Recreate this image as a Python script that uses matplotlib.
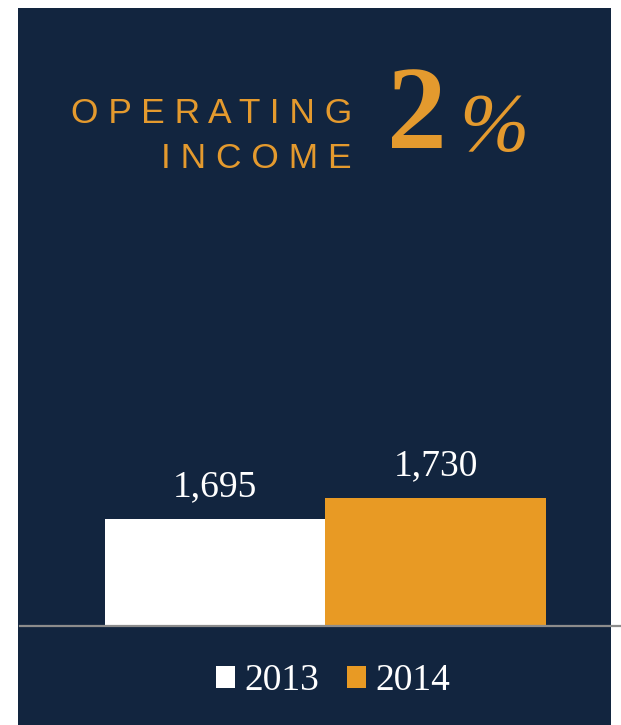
import matplotlib
matplotlib.use("Agg")
import matplotlib.pyplot as plt
from matplotlib.patches import Rectangle, Patch

# Data
years = ["2013", "2014"]
values = [1695, 1730]
value_labels = ["1,695", "1,730"]
title_lines = ["OPERATING", "INCOME"]
change_label = "2"
percent_sign = "%"

NAVY = "#12253F"
ORANGE = "#E89A24"
TITLE_ORANGE = "#E49A2E"
WHITE = "#FFFFFF"
GRAY = "#8C8C8C"

W, H = 621, 725
fig = plt.figure(figsize=(W / 100, H / 100), dpi=100, facecolor="white")

def fx(x):
    return x / W

def fy(y):
    return 1 - y / H

# Navy panel
fig.patches.append(Rectangle((fx(18), 0), fx(611) - fx(18), fy(8), transform=fig.transFigure,
                             facecolor=NAVY, edgecolor="none", zorder=-10))

# Axes
ax_left, ax_right = 20, 621
ax_bottom, ax_top = 626, 200
ax = fig.add_axes([fx(ax_left), fy(ax_bottom), fx(ax_right) - fx(ax_left), fy(ax_top) - fy(ax_bottom)])
ax.set_zorder(5)
ax.set_facecolor("none")
ax.patch.set_alpha(0)

bar_colors = [WHITE, ORANGE]
xs = list(range(len(years)))
bars = ax.bar(xs, values, width=1.0, color=bar_colors, edgecolor="none", zorder=2)

px_per_unit = 220.5
ax.set_xlim(-(215 - ax_left) / px_per_unit, 1 + (ax_right - 435.5) / px_per_unit)
ymin = 1517
ax.set_ylim(ymin, ymin + (ax_bottom - ax_top) / 0.6)

for s in ["top", "left", "right"]:
    ax.spines[s].set_visible(False)
ax.spines["bottom"].set_color(GRAY)
ax.spines["bottom"].set_linewidth(1.6)
ax.set_xticks([])
ax.set_yticks([])

serif = ["Liberation Serif", "DejaVu Serif"]
for x, v, lab in zip(xs, values, value_labels):
    ax.annotate(lab, (x, v), xytext=(0, 11), textcoords="offset points",
                ha="center", va="bottom", fontsize=27, color=WHITE, family=serif)

# Legend
handles = [Patch(facecolor=c, edgecolor="none", label=y) for c, y in zip(bar_colors, years)]
leg = fig.legend(handles=handles, loc="center", bbox_to_anchor=(fx(333), fy(681)), ncol=2,
                 frameon=False, prop={"family": serif, "size": 27},
                 handlelength=0.5, handleheight=0.5, handletextpad=0.25, columnspacing=0.75,
                 labelcolor=WHITE)

# Title
sans = ["Liberation Sans", "DejaVu Sans"]
fig.text(fx(352), fy(123), " ".join(title_lines[0]), ha="right", va="baseline",
         fontsize=25.5, color=TITLE_ORANGE, family=sans)
fig.text(fx(352), fy(168), " ".join(title_lines[1]), ha="right", va="baseline",
         fontsize=25.5, color=TITLE_ORANGE, family=sans)
fig.text(fx(447), fy(148), change_label, ha="right", va="baseline", fontsize=86,
         fontweight="bold", color=TITLE_ORANGE, family=serif)
fig.text(fx(459), fy(150), percent_sign, ha="left", va="baseline", fontsize=60,
         fontstyle="italic", color=TITLE_ORANGE, family=serif)

fig.savefig("out.png", dpi=100, facecolor="white")
